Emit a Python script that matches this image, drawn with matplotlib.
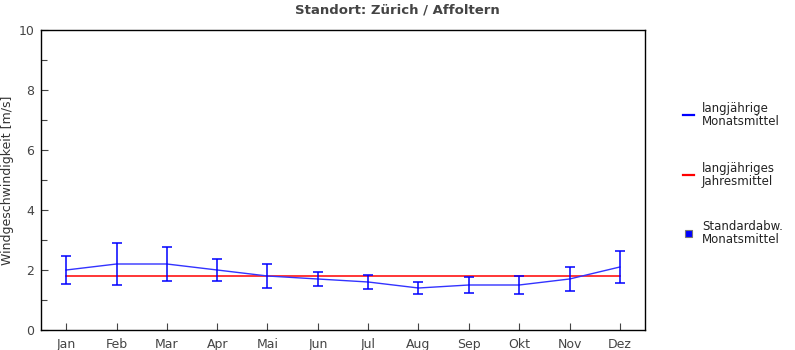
import matplotlib
matplotlib.use("Agg")
import matplotlib.pyplot as plt
from matplotlib.lines import Line2D
from matplotlib.patches import Rectangle

months = ["Jan", "Feb", "Mar", "Apr", "Mai", "Jun", "Jul", "Aug", "Sep", "Okt", "Nov", "Dez"]
monthly_mean = [2.0, 2.2, 2.2, 2.0, 1.8, 1.7, 1.6, 1.4, 1.5, 1.5, 1.7, 2.1]
monthly_std = [0.47, 0.70, 0.57, 0.37, 0.40, 0.23, 0.23, 0.20, 0.27, 0.30, 0.40, 0.53]
annual_mean = 1.8

title = "Standort: Zürich / Affoltern"
ylabel = "Windgeschwindigkeit [m/s]"

plt.rcParams["font.family"] = "DejaVu Sans"

fig = plt.figure(figsize=(7.95, 3.5), dpi=100)
ax = fig.add_axes([41 / 795, 20 / 350, 604 / 795, 300 / 350])

x = list(range(1, len(months) + 1))

ax.plot([x[0], x[-1]], [annual_mean, annual_mean], color="#ff0000", lw=1.1, zorder=2)
ax.plot(x, monthly_mean, color="#3333ff", lw=1.0, zorder=3)
ax.errorbar(x, monthly_mean, yerr=monthly_std, fmt="none", ecolor="#0000ff",
            elinewidth=1.1, capsize=3.5, capthick=1.1, zorder=4)

ax.set_xlim(0.5, 12.5)
ax.set_ylim(0, 10)
ax.set_xticks(x)
ax.set_xticklabels(months)
ax.set_yticks([0, 2, 4, 6, 8, 10])
ax.set_yticks([1, 3, 5, 7, 9], minor=True)
ax.tick_params(axis="both", which="both", direction="in", labelsize=9,
               labelcolor="#444444", color="#444444")
ax.tick_params(axis="both", which="major", length=5, width=0.8)
ax.tick_params(axis="y", which="minor", length=4, width=0.8)
ax.tick_params(axis="x", pad=6)
ax.tick_params(axis="y", pad=5)
for s in ax.spines.values():
    s.set_linewidth(1.0)
    s.set_color("black")

ax.set_ylabel(ylabel, fontsize=9, color="#333333", va="center")
ax.yaxis.set_label_coords(-33 / 604, 0.5)
fig.text(397.5 / 795, 1 - 10 / 350, title, ha="center", va="center",
         fontsize=9.5, fontweight="bold", color="#444444")

# legend on the right side
def fx(px):
    return px / 795

def fy(py):
    return 1 - py / 350

leg_items = [
    ("line", "#0000ff", "langjährige\nMonatsmittel", 115),
    ("line", "#ff0000", "langjähriges\nJahresmittel", 175),
    ("box", "#0000ff", "Standardabw.\nMonatsmittel", 233),
]
for kind, col, label, yc in leg_items:
    if kind == "line":
        fig.add_artist(Line2D([fx(683), fx(694)], [fy(yc), fy(yc)], color=col, lw=1.6))
    else:
        fig.add_artist(Rectangle((fx(685), fy(yc + 3.5)), 7 / 795, 7 / 350,
                                 facecolor=col, edgecolor="#777777", lw=0.8))
    fig.text(fx(702), fy(yc), label, ha="left", va="center", fontsize=8.5,
             color="#222222", linespacing=0.95)

fig.savefig("out.png", dpi=100)
